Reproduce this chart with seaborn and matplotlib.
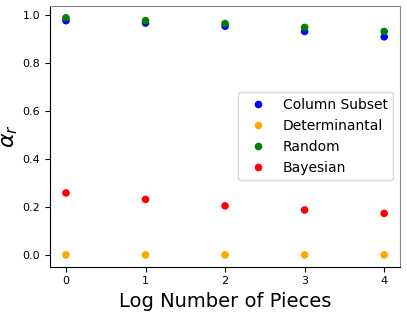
import matplotlib
matplotlib.use("Agg")
import matplotlib.pyplot as plt
import seaborn as sns
import pandas as pd

x = [0, 1, 2, 3, 4]
column_subset = [0.975, 0.965, 0.952, 0.930, 0.908]
determinantal = [0.0, 0.0, 0.0, 0.0, 0.0]
random_vals = [0.987, 0.975, 0.963, 0.947, 0.930]
bayesian = [0.258, 0.231, 0.204, 0.187, 0.173]

series_names = ["Column Subset", "Determinantal", "Random", "Bayesian"]
colors = ["blue", "orange", "green", "red"]

df = pd.concat([
    pd.DataFrame({"x": x, "y": vals, "method": name})
    for name, vals in zip(series_names, [column_subset, determinantal, random_vals, bayesian])
])

fig, ax = plt.subplots(figsize=(4.07, 3.12), dpi=100)
sns.scatterplot(data=df, x="x", y="y", hue="method", hue_order=series_names,
                palette=colors, s=30, edgecolor="none", ax=ax)
ax.set_xticks(x)
ax.set_xlabel("Log Number of Pieces", fontsize=14)
ax.set_ylabel(r"$\alpha_r$", fontsize=16, labelpad=2)
ax.tick_params(labelsize=8)
ax.legend(loc="center right", fontsize=10, bbox_to_anchor=(1.0, 0.5))
for s in ["top", "right"]:
    ax.spines[s].set_color("#888888")
fig.subplots_adjust(left=0.123, right=0.983, top=0.981, bottom=0.145)
fig.savefig("out.png", dpi=100)
